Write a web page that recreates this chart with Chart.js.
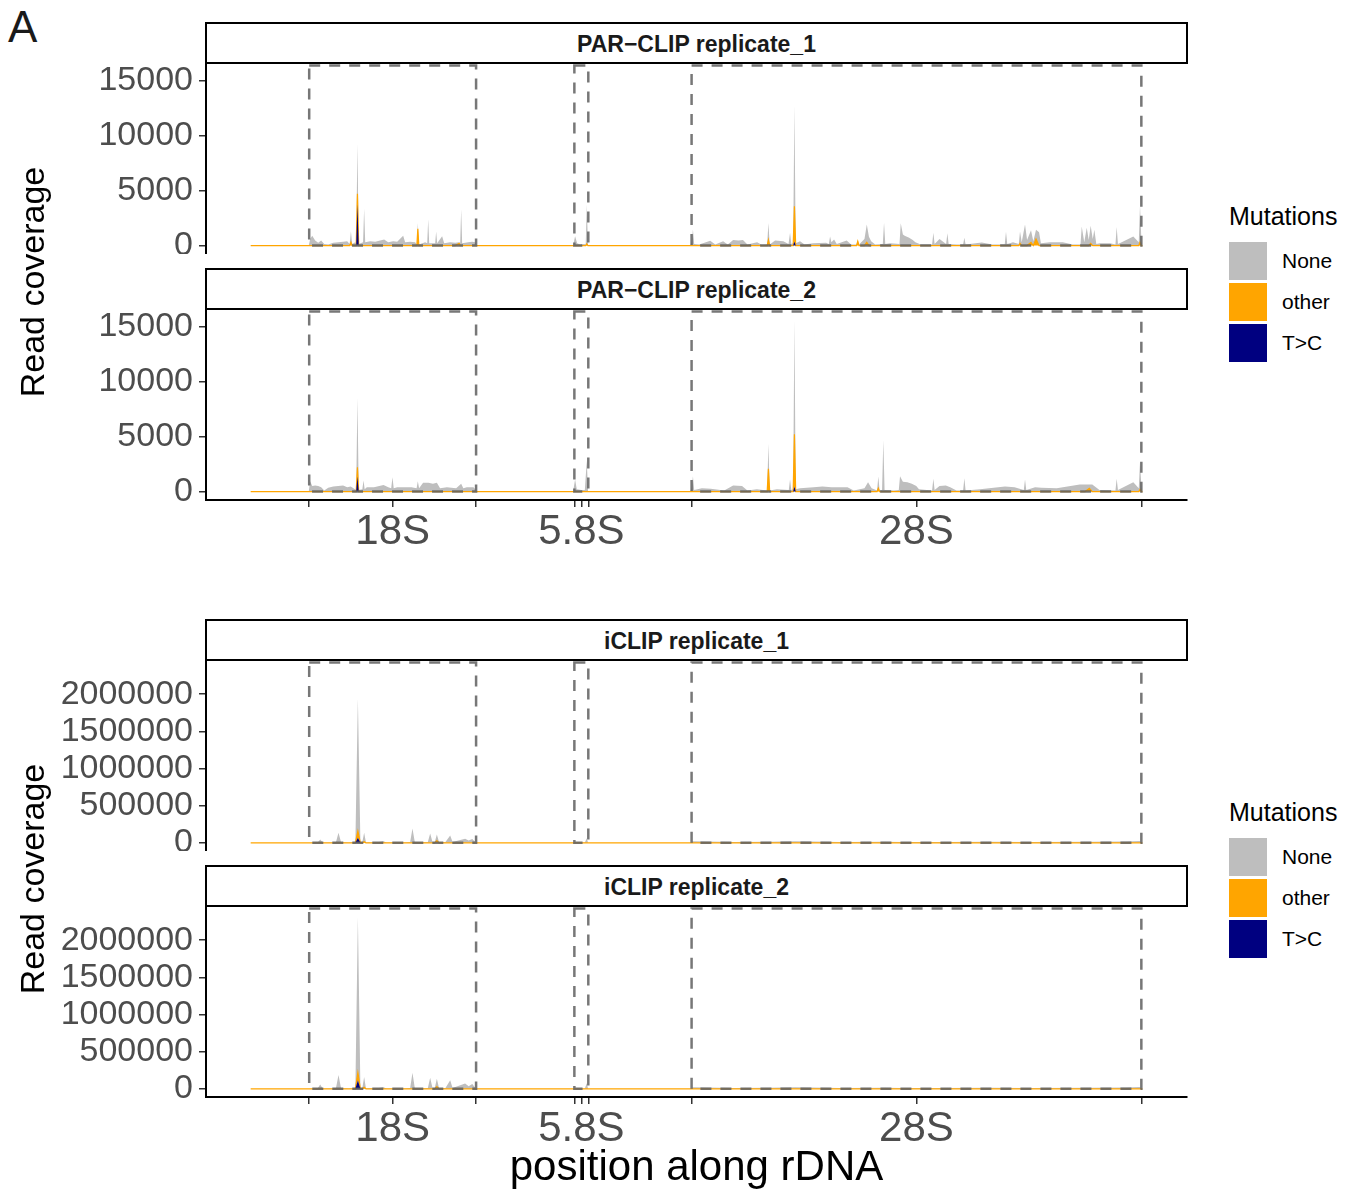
<!DOCTYPE html>
<html>
<head>
<meta charset="utf-8">
<script src="https://cdn.jsdelivr.net/npm/chart.js@4.4.1/dist/chart.umd.min.js"></script>
<style>
  body { margin: 0; background: #fff; }
  #page { position: relative; width: 1349px; height: 1192px; overflow: hidden; font-family: "Liberation Sans", Arial, Helvetica, sans-serif; }
  canvas { position: absolute; left: 0; }
  .strip { position: absolute; left: 205px; width: 979px; height: 38px; border: 2px solid #000; background: #fff;
           font-weight: bold; font-size: 23px; line-height: 40px; text-align: center; color: #1a1a1a; }
  .ytitle { position: absolute; width: 420px; height: 40px; line-height: 40px; font-size: 34px; text-align: center;
            transform: translate(-50%, -50%) rotate(-90deg); color: #000; }
  .lgTitle { position: absolute; left: 1229px; font-size: 25px; line-height: 25px; color: #000; }
  .key { position: absolute; left: 1229px; width: 38px; height: 38px; }
  .keyLab { position: absolute; left: 1282px; font-size: 21px; line-height: 38px; height: 38px; color: #000; }
</style>
</head>
<body>
<div id="page">
  <div style="position:absolute;left:8px;top:5px;font-size:44px;line-height:44px;color:#1a1a1a;">A</div>

  <div class="strip" style="top:22px;">PAR−CLIP replicate_1</div>
  <div class="strip" style="top:268px;">PAR−CLIP replicate_2</div>
  <div class="strip" style="top:619px;">iCLIP replicate_1</div>
  <div class="strip" style="top:865px;">iCLIP replicate_2</div>

  <canvas id="par1" width="1190" height="190" style="top:64px;"></canvas>
  <canvas id="par2" width="1190" height="252" style="top:310px;"></canvas>
  <canvas id="iclip1" width="1190" height="190" style="top:661px;"></canvas>
  <canvas id="iclip2" width="1190" height="252" style="top:907px;"></canvas>

  <div class="ytitle" style="left:32px;top:282px;">Read coverage</div>
  <div class="ytitle" style="left:32px;top:879px;">Read coverage</div>

  <div style="position:absolute;left:206px;width:981px;top:1145px;font-size:42px;line-height:42px;text-align:center;color:#000;">position along rDNA</div>

  <div class="lgTitle" style="top:204px;">Mutations</div>
  <div class="key" style="top:242px;background:#BEBEBE;"></div>
  <div class="key" style="top:283px;background:#FFA500;"></div>
  <div class="key" style="top:324px;background:#000080;"></div>
  <div class="keyLab" style="top:242px;">None</div>
  <div class="keyLab" style="top:283px;">other</div>
  <div class="keyLab" style="top:324px;">T&gt;C</div>

  <div class="lgTitle" style="top:800px;">Mutations</div>
  <div class="key" style="top:838px;background:#BEBEBE;"></div>
  <div class="key" style="top:879px;background:#FFA500;"></div>
  <div class="key" style="top:920px;background:#000080;"></div>
  <div class="keyLab" style="top:838px;">None</div>
  <div class="keyLab" style="top:879px;">other</div>
  <div class="keyLab" style="top:920px;">T&gt;C</div>
</div>

<script>
// rDNA coordinates (bp)
const xMin = 2500, xMax = 13480;
const regionStart = [3655, 6623, 7935];
const regionEnd = [5523, 6779, 12969];
const xTickPos = [3655, 4589, 5523, 6623, 6701, 6779, 7935, 10452, 12969];
const xTickLabels = ['', '18S', '', '', '5.8S', '', '', '28S', ''];

const parTicks = [0, 5000, 10000, 15000];
const iclipTicks = [0, 500000, 1000000, 1500000, 2000000];
const parRange = [-770, 16550];
const iclipRange = [-110000, 2446000];

// PAR-CLIP replicate_1
const par1Pos = [3000, 3650, 3666, 3689, 3722, 3756, 3789, 3823, 3868, 3924, 3980, 4035, 4080, 4108, 4122, 4136, 4170,
  4181, 4195, 4209, 4230, 4258, 4270, 4282, 4338, 4394, 4449, 4494, 4539, 4595, 4640, 4684, 4707, 4729, 4785, 4841,
  4860, 4871, 4882, 4953, 4976, 4987, 4998, 5065, 5076, 5087, 5143, 5166, 5233, 5289, 5334, 5345, 5356, 5367, 5434,
  5479, 5513, 5535,
  6609, 6631, 6654, 6687, 6732, 6750, 6762, 6775,
  7920, 7936, 7950, 7964, 8020, 8144, 8200, 8288, 8340, 8400, 8460, 8510, 8560, 8668, 8720, 8781, 8795, 8809, 8870,
  8962, 9020, 9037, 9051, 9072, 9086, 9100, 9149, 9200, 9295, 9440, 9471, 9485, 9500, 9530, 9560, 9671, 9720, 9781,
  9795, 9809, 9870, 9896, 9920, 9945, 9990, 10075, 10089, 10103, 10156, 10262, 10276, 10300, 10320, 10370, 10410,
  10440, 10500, 10627, 10641, 10655, 10710, 10784, 10798, 10812, 10900, 10974, 10988, 11002, 11183, 11300, 11440,
  11454, 11468, 11532, 11597, 11611, 11630, 11667, 11690, 11734, 11760, 11790, 11824, 11845, 11946, 12090, 12200,
  12288, 12302, 12330, 12358, 12380, 12402, 12425, 12443, 12465, 12507, 12618, 12679, 12693, 12707, 12749, 12879,
  12940, 12954, 12970, 12981];
const par1None = [0, 0, 600, 900, 450, 250, 450, 150, 100, 250, 300, 350, 400, 150, 1000, 150, 300,
  150, 4570, 150, 200, 300, 3350, 300, 400, 350, 450, 550, 300, 400, 350, 700, 900, 300, 350, 300,
  100, 530, 100, 300, 200, 2400, 200, 200, 1280, 200, 850, 200, 300, 250, 100, 200, 3300, 200, 300,
  350, 300, 0,
  0, 850, 200, 100, 150, 100, 3600, 0,
  0, 300, 1460, 150, 100, 430, 100, 400, 100, 500, 450, 500, 100, 300, 80, 100, 1530, 100, 450,
  400, 150, 1160, 150, 200, 9240, 200, 400, 100, 200, 250, 150, 820, 300, 550, 150, 450, 100, 100,
  100, 100, 600, 1620, 800, 400, 100, 150, 2070, 150, 200, 150, 2040, 1000, 900, 700, 500,
  300, 100, 100, 1160, 150, 600, 150, 1130, 150, 100, 100, 700, 100, 280, 100, 100,
  1250, 150, 300, 150, 1080, 300, 1920, 500, 1100, 400, 830, 1220, 200, 300, 300, 100,
  100, 1740, 300, 1620, 500, 1600, 600, 1430, 150, 200, 200, 100, 1680, 150, 300, 820,
  300, 3360, 400, 0];
const par1OtherPos = [3000, 4108, 4122, 4136, 4181, 4195, 4209, 4860, 4871, 4882, 5289, 5334, 5345, 6750, 6762, 6775,
  8781, 8795, 8809, 9072, 9086, 9100, 9781, 9795, 9809, 9870, 9896, 9920, 11597, 11611, 11630, 11690, 11734, 11760,
  11790, 11824, 12380, 12402, 12425, 12940, 12954, 12970, 12981];
const par1Other = [0, 0, 300, 0, 0, 980, 0, 0, 1520, 0, 0, 200, 0, 0, 150, 0,
  0, 520, 0, 0, 3200, 0, 0, 400, 0, 0, 300, 0, 0, 200, 0, 0, 300, 0,
  600, 0, 0, 200, 0, 0, 300, 0, 0];
const par1TcPos = [3000, 4181, 4195, 4209, 9072, 9086, 9100, 12981];
const par1Tc = [0, 0, 3750, 0, 0, 370, 0, 0];

// PAR-CLIP replicate_2
const par2Pos = [3000, 3650, 3666, 3689, 3722, 3756, 3789, 3823, 3868, 3924, 3980, 4035, 4080, 4120, 4150,
  4181, 4195, 4209, 4250, 4263, 4276, 4300, 4380, 4487, 4540, 4573, 4587, 4601, 4640, 4720, 4800, 4857, 4871, 4885,
  4930, 4990, 5040, 5084, 5120, 5196, 5300, 5356, 5380, 5420, 5494, 5535,
  6609, 6631, 6650, 6700, 6740, 6762, 6776,
  7920, 7936, 7950, 7964, 8050, 8150, 8300, 8400, 8500, 8560, 8665, 8781, 8795, 8809, 8890, 9023, 9037, 9051,
  9072, 9086, 9100, 9149, 9300, 9400, 9500, 9600, 9680, 9750, 9870, 9910, 9950, 10011, 10025, 10039, 10067, 10081,
  10095, 10200, 10254, 10268, 10300, 10350, 10400, 10450, 10480, 10627, 10641, 10655, 10710, 10780, 10830, 10900,
  10974, 10988, 11002, 11163, 11443, 11550, 11653, 11667, 11681, 11780, 11850, 12022, 12280, 12340, 12387, 12420,
  12500, 12679, 12693, 12707, 12879, 12940, 12954, 12970, 12981];
const par2None = [0, 0, 940, 500, 550, 500, 400, 100, 350, 450, 500, 550, 400, 450, 300,
  150, 6330, 150, 200, 1000, 200, 400, 400, 600, 400, 300, 1300, 300, 400, 400, 400, 300, 950, 300,
  800, 800, 700, 800, 300, 400, 300, 700, 300, 400, 400, 0,
  0, 1100, 200, 150, 150, 2800, 0,
  0, 300, 1400, 150, 300, 250, 100, 550, 500, 100, 200, 100, 2290, 100, 200, 150, 1100, 150,
  200, 10430, 200, 300, 400, 450, 400, 400, 400, 100, 300, 850, 300, 100, 1070, 150, 150, 4670,
  150, 100, 150, 1400, 900, 850, 700, 500, 200, 100, 1160, 150, 500, 550, 400, 100,
  100, 1220, 100, 200, 450, 400, 150, 1100, 150, 400, 350, 300, 640, 640, 340, 640,
  150, 100, 1160, 150, 850, 300, 2480, 400, 0];
const par2OtherPos = [3000, 4181, 4195, 4209, 8781, 8795, 8809, 9072, 9086, 9100, 10011, 10025, 10039,
  12340, 12387, 12420, 12940, 12954, 12970, 12981];
const par2Other = [0, 0, 850, 0, 0, 2070, 0, 0, 4760, 0, 0, 300, 0, 0, 300, 0, 0, 200, 0, 0];
const par2TcPos = [3000, 4181, 4195, 4209, 9072, 9086, 9100, 12981];
const par2Tc = [0, 0, 1370, 0, 0, 460, 0, 0];

// iCLIP replicate_1
const iclip1Pos = [3000, 3650, 3700, 3750, 3778, 3806, 3900, 3955, 3983, 4011, 4100, 4172, 4200, 4228, 4250, 4270,
  4290, 4400, 4487, 4520, 4700, 4785, 4811, 4837, 4900, 4983, 5009, 5035, 5060, 5084, 5108, 5180, 5233, 5260, 5400,
  5440, 5480, 5520, 5535, 6609, 6740, 6762, 6776, 7920, 7950, 8400, 8800, 9100, 9600, 10100, 10300, 10700, 11300,
  11700, 12400, 12800, 12950, 12981];
const iclip1None = [0, 0, 5000, 5000, 45000, 5000, 3000, 10000, 135000, 10000, 5000, 15000, 1783000, 15000, 10000, 120000,
  8000, 3000, 22000, 3000, 5000, 10000, 193000, 10000, 8000, 10000, 126000, 10000, 8000, 82000, 10000, 10000, 100000, 10000, 54000,
  30000, 50000, 5000, 0, 0, 5000, 60000, 0, 0, 20000, 10000, 15000, 20000, 10000, 15000, 12000, 10000, 15000,
  12000, 15000, 18000, 25000, 0];
const iclip1OtherPos = [3000, 4172, 4200, 4228, 4250, 4270, 4290, 5060, 5084, 5108, 12981];
const iclip1Other = [0, 0, 90000, 0, 0, 15000, 0, 0, 30000, 0, 0];
const iclip1TcPos = [3000, 4172, 4200, 4228, 12981];
const iclip1Tc = [0, 0, 67000, 0, 0];

// iCLIP replicate_2
const iclip2Pos = iclip1Pos.slice();
const iclip2None = [0, 0, 5000, 5000, 58000, 5000, 3000, 10000, 185000, 10000, 5000, 15000, 2093000, 15000, 10000, 140000,
  8000, 3000, 20000, 3000, 5000, 10000, 215000, 10000, 8000, 10000, 150000, 10000, 8000, 105000, 10000, 10000, 117000, 10000, 70000,
  35000, 65000, 5000, 0, 0, 5000, 75000, 0, 0, 20000, 10000, 15000, 20000, 10000, 15000, 12000, 10000, 15000,
  12000, 15000, 18000, 25000, 0];
const iclip2OtherPos = [3000, 4172, 4200, 4228, 4250, 4270, 4290, 5060, 5084, 5108, 12981];
const iclip2Other = [0, 0, 100000, 0, 0, 20000, 0, 0, 30000, 0, 0];
const iclip2TcPos = [3000, 4172, 4200, 4228, 12981];
const iclip2Tc = [0, 0, 117000, 0, 0];

const colNone = '#BEBEBE', colOther = '#FFA500', colTC = '#000080';
const fam = '"Liberation Sans", Arial, Helvetica, sans-serif';

const regionBoxes = {
  id: 'regionBoxes',
  afterDatasetsDraw(chart) {
    const { ctx, chartArea, scales } = chart;
    const y0 = scales.y.getPixelForValue(0);
    const yt = chartArea.top + 1.5;
    ctx.save();
    ctx.strokeStyle = 'rgba(95,95,95,0.85)';
    ctx.lineWidth = 2.5;
    ctx.setLineDash([11, 9]);
    regionStart.forEach((s, i) => {
      const xa = scales.x.getPixelForValue(s);
      const xb = scales.x.getPixelForValue(regionEnd[i]);
      ctx.strokeRect(xa, yt, xb - xa, y0 - yt);
    });
    ctx.restore();
  }
};

function xy(p, v) {
  return p.map((x, i) => ({ x, y: v[i] }));
}

function noPad(s) {
  s.paddingTop = 0; s.paddingBottom = 0; s.paddingLeft = 0; s.paddingRight = 0;
}

function drawPanel(id, pos, none, oPos, other, tPos, tc, yTicks, yRange, showX) {
  new Chart(document.getElementById(id), {
    type: 'line',
    data: {
      datasets: [
        { label: 'T>C', data: xy(tPos, tc), backgroundColor: colTC, borderColor: 'rgba(0,0,0,0)', borderWidth: 0, fill: 'origin' },
        { label: 'other', data: xy(oPos, other), backgroundColor: colOther, borderColor: colOther, borderWidth: 1.2, fill: '-1' },
        { label: 'None', data: xy(pos, none), backgroundColor: colNone, borderColor: 'rgba(0,0,0,0)', borderWidth: 0, fill: '-1' }
      ]
    },
    options: {
      responsive: false,
      animation: false,
      devicePixelRatio: 1,
      events: [],
      layout: { autoPadding: false, padding: { left: 0, right: 3, top: 0, bottom: 0 } },
      elements: { point: { radius: 0 }, line: { tension: 0 } },
      plugins: { legend: { display: false }, tooltip: { enabled: false } },
      scales: {
        x: {
          type: 'linear', min: xMin, max: xMax, display: showX,
          afterBuildTicks: s => { s.ticks = xTickPos.map(v => ({ value: v })); },
          afterFit: s => { noPad(s); if (showX) s.height = 62; },
          ticks: {
            autoSkip: false, maxRotation: 0, minRotation: 0, padding: 0,
            color: '#4d4d4d', font: { size: 42, family: fam },
            callback: (v, i) => xTickLabels[i]
          },
          grid: { drawOnChartArea: false, drawTicks: true, tickLength: 7, color: '#333', lineWidth: 1.5 },
          border: { display: true, color: '#000', width: 2 }
        },
        y: {
          type: 'linear', stacked: true, min: yRange[0], max: yRange[1],
          afterBuildTicks: s => { s.ticks = yTicks.map(v => ({ value: v })); },
          afterFit: s => { noPad(s); s.width = 206; },
          ticks: { autoSkip: false, padding: 6, color: '#4d4d4d', font: { size: 34, family: fam }, callback: v => String(v) },
          grid: { drawOnChartArea: false, drawTicks: true, tickLength: 7, color: '#333', lineWidth: 1.5 },
          border: { display: true, color: '#000', width: 2 }
        }
      }
    },
    plugins: [regionBoxes]
  });
}

drawPanel('par1', par1Pos, par1None, par1OtherPos, par1Other, par1TcPos, par1Tc, parTicks, parRange, false);
drawPanel('par2', par2Pos, par2None, par2OtherPos, par2Other, par2TcPos, par2Tc, parTicks, parRange, true);
drawPanel('iclip1', iclip1Pos, iclip1None, iclip1OtherPos, iclip1Other, iclip1TcPos, iclip1Tc, iclipTicks, iclipRange, false);
drawPanel('iclip2', iclip2Pos, iclip2None, iclip2OtherPos, iclip2Other, iclip2TcPos, iclip2Tc, iclipTicks, iclipRange, true);
</script>
</body>
</html>
